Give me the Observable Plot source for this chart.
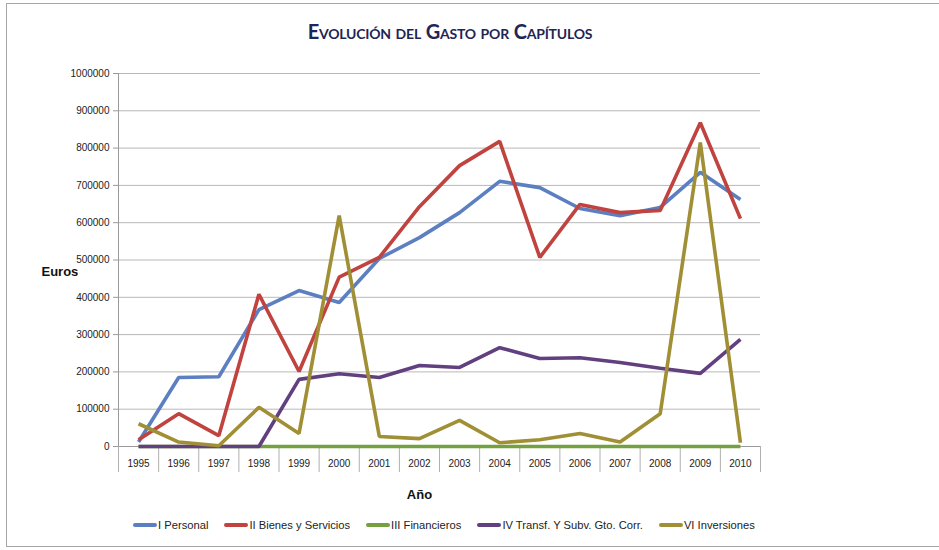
<!DOCTYPE html>
<html>
<head>
<meta charset="utf-8">
<script src="https://cdn.jsdelivr.net/npm/d3@7"></script>
<script src="https://cdn.jsdelivr.net/npm/@observablehq/plot@0.6"></script>
<style>
  body { margin: 0; background: #fff; font-family: "Liberation Sans", Arial, sans-serif; }
  #wrap { position: relative; width: 939px; height: 550px; overflow: hidden; background: #fff; }
  #frame { position: absolute; left: 6px; top: 3px; width: 980px; height: 544px; border: 1.5px solid #a6a6a6; box-sizing: border-box; }
  #title { position: absolute; top: 19px; left: 0; width: 900px; text-align: center; font-family: Lato, "Open Sans", sans-serif; font-weight: 700; font-variant: small-caps; font-size: 20px; color: #1f2554; letter-spacing: -0.2px; }
  #chart { position: absolute; left: 0; top: 60px; }
  #legend { position: absolute; top: 519px; left: 133px; display: flex; gap: 16px; font-size: 11.2px; color: #222; white-space: nowrap; }
  .item { display: flex; align-items: center; }
  .swatch { width: 24px; height: 4px; border-radius: 2px; margin-right: 1px; }
</style>
</head>
<body>
<div id="wrap">
  <div id="frame"></div>
  <div id="title">Evolución del Gasto por Capítulos</div>
  <div id="chart"></div>
  <div id="legend"></div>
</div>
<script>
const years = [1995, 1996, 1997, 1998, 1999, 2000, 2001, 2002, 2003, 2004, 2005, 2006, 2007, 2008, 2009, 2010];
const seriesNames = ["I Personal", "II Bienes y Servicios", "III Financieros", "IV Transf. Y Subv. Gto. Corr.", "VI Inversiones"];
const seriesColors = ["#5b7fc1", "#c0433f", "#74a040", "#62407f", "#a08f34"];
const personal    = [12000, 185000, 187000, 367000, 418000, 386000, 504000, 560000, 627000, 711000, 694000, 638000, 619000, 641000, 735000, 662000];
const bienes      = [18000, 88000, 29000, 408000, 201000, 454000, 507000, 643000, 753000, 818000, 507000, 649000, 627000, 633000, 868000, 611000];
const financieros = [0, 0, 0, 0, 0, 0, 0, 0, 0, 0, 0, 0, 0, 0, 0, 0];
const transf      = [0, 0, 0, 0, 180000, 195000, 185000, 217000, 212000, 265000, 236000, 238000, 225000, 210000, 196000, 287000];
const inversiones = [61000, 12000, 2000, 105000, 35000, 619000, 27000, 21000, 70000, 10000, 18000, 35000, 12000, 88000, 815000, 10000];
const yTicks = [0, 100000, 200000, 300000, 400000, 500000, 600000, 700000, 800000, 900000, 1000000];
const yLabel = "Euros";
const xLabel = "Año";

const seriesValues = [personal, bienes, financieros, transf, inversiones];
const rows = [];
seriesNames.forEach((name, i) => {
  years.forEach((yr, j) => rows.push({series: name, year: yr, value: seriesValues[i][j]}));
});
const boundaries = [...years.map(y => y - 0.5), years[years.length - 1] + 0.5];

const chart = Plot.plot({
  width: 939,
  height: 450,
  marginTop: 13,
  marginBottom: 64,
  marginLeft: 118,
  marginRight: 179,
  style: { fontFamily: '"Liberation Sans", Arial, sans-serif', fontSize: "10px", color: "#222", background: "transparent", overflow: "visible" },
  x: { type: "linear", domain: [years[0] - 0.5, years[years.length - 1] + 0.5] },
  y: { domain: [0, 1000000] },
  color: { domain: seriesNames, range: seriesColors },
  marks: [
    Plot.gridY(yTicks, { stroke: "#b8b8b8", strokeOpacity: 1, strokeWidth: 1 }),
    Plot.axisY({ ticks: yTicks, tickFormat: d3.format("d"), tickSize: 5, tickPadding: 4, label: null, stroke: "#9a9a9a" }),
    Plot.frame({ anchor: "left", stroke: "#9a9a9a" }),
    Plot.frame({ anchor: "bottom", stroke: "#9a9a9a" }),
    Plot.axisX({ ticks: boundaries, tickFormat: () => "", tickSize: 26, label: null, stroke: "#b0b0b0" }),
    Plot.axisX({ ticks: years, tickFormat: d3.format("d"), tickSize: 0, tickPadding: 13, label: null }),
    Plot.line(rows, { x: "year", y: "value", z: "series", stroke: "series", strokeWidth: 3.6, strokeLinejoin: "miter", strokeLinecap: "butt" }),
    Plot.text([yLabel], { frameAnchor: "left", dx: -77, dy: 12, fontWeight: "bold", fontSize: 13, fill: "#111" }),
    Plot.text([xLabel], { frameAnchor: "bottom", dx: -20, dy: 52, fontWeight: "bold", fontSize: 13, fill: "#111" })
  ]
});
document.getElementById("chart").appendChild(chart);

const legend = document.getElementById("legend");
seriesNames.forEach((name, i) => {
  const item = document.createElement("div");
  item.className = "item";
  const sw = document.createElement("span");
  sw.className = "swatch";
  sw.style.background = seriesColors[i];
  const tx = document.createElement("span");
  tx.textContent = name;
  item.appendChild(sw);
  item.appendChild(tx);
  legend.appendChild(item);
});
</script>
</body>
</html>
